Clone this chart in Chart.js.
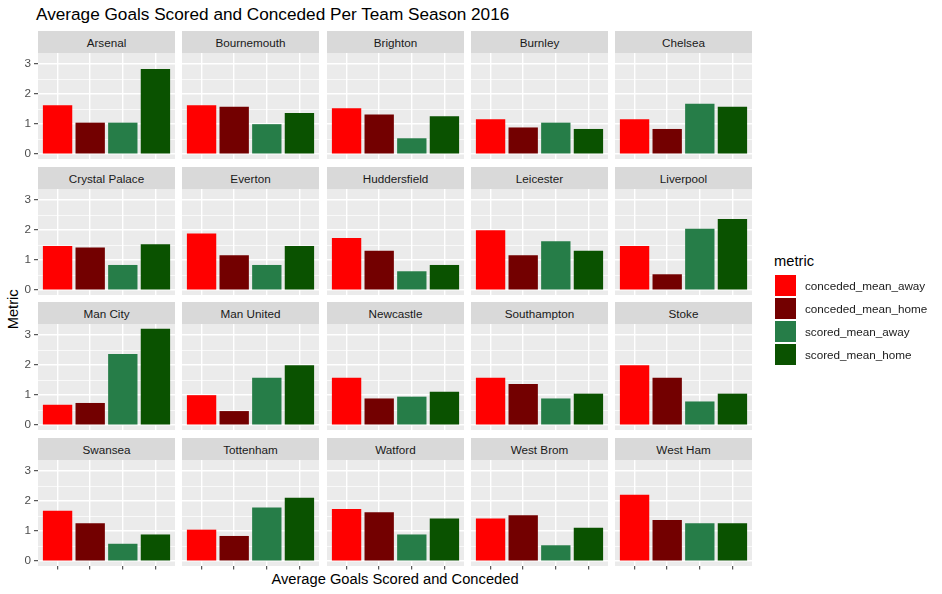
<!DOCTYPE html>
<html>
<head>
<meta charset="utf-8">
<script src="https://cdn.jsdelivr.net/npm/chart.js@4.4.1/dist/chart.umd.min.js"></script>
<style>
  body { margin: 0; background: #fff; font-family: "Liberation Sans", Arial, sans-serif; }
  #wrap { position: relative; width: 942px; height: 594px; overflow: hidden; }
  .txt { position: absolute; white-space: nowrap; color: #000; }
  .strip { position: absolute; background: #d9d9d9; color: #1a1a1a; font-size: 11.7px;
           display: flex; align-items: center; justify-content: center; padding-top: 1px; box-sizing: border-box; }
  .key { position: absolute; width: 21px; height: 21px; }
  .klab { position: absolute; height: 21px; font-size: 11.7px; color: #1a1a1a;
          display: flex; align-items: center; white-space: nowrap; }
  canvas { position: absolute; }
</style>
</head>
<body>
<div id="wrap">
  <div class="txt" style="left:36px;top:6.4px;font-size:17.2px;line-height:17.2px;">Average Goals Scored and Conceded Per Team Season 2016</div>
  <div class="txt" style="left:0;width:790px;text-align:center;top:572px;font-size:14.7px;line-height:14.7px;">Average Goals Scored and Conceded</div>
  <div class="txt" style="left:-16.7px;top:301.6px;width:60px;text-align:center;font-size:14.7px;line-height:14.7px;transform:rotate(-90deg);">Metric</div>
  <div class="txt" style="left:774px;top:253.6px;font-size:14.7px;line-height:14.7px;">metric</div>
</div>
<script>
// per-team averages
const teams = ['Arsenal', 'Bournemouth', 'Brighton', 'Burnley', 'Chelsea',
  'Crystal Palace', 'Everton', 'Huddersfield', 'Leicester', 'Liverpool',
  'Man City', 'Man United', 'Newcastle', 'Southampton', 'Stoke',
  'Swansea', 'Tottenham', 'Watford', 'West Brom', 'West Ham'];

const concededMeanAway = [1.63, 1.63, 1.53, 1.16, 1.16, 1.47, 1.89, 1.74, 2.00, 1.47,
  0.68, 1.00, 1.58, 1.58, 2.00, 1.68, 1.05, 1.74, 1.42, 2.21];
const concededMeanHome = [1.05, 1.58, 1.32, 0.89, 0.84, 1.42, 1.16, 1.31, 1.16, 0.53,
  0.74, 0.47, 0.89, 1.37, 1.58, 1.26, 0.84, 1.63, 1.53, 1.37];
const scoredMeanAway = [1.05, 1.00, 0.53, 1.05, 1.68, 0.84, 0.84, 0.63, 1.63, 2.05,
  2.37, 1.58, 0.95, 0.89, 0.79, 0.58, 1.79, 0.89, 0.53, 1.26];
const scoredMeanHome = [2.84, 1.37, 1.26, 0.84, 1.58, 1.53, 1.47, 0.84, 1.31, 2.37,
  3.21, 2.00, 1.11, 1.05, 1.05, 0.89, 2.11, 1.42, 1.11, 1.26];

const metrics = ['conceded_mean_away', 'conceded_mean_home', 'scored_mean_away', 'scored_mean_home'];
const metricColors = ['#FF0000', '#730000', '#267D48', '#0A5200'];
const yTickLabels = ['0', '1', '2', '3'];

const series = [concededMeanAway, concededMeanHome, scoredMeanAway, scoredMeanHome];

// shared y range, ggplot style 5% expansion
const topVal = Math.max(...series.flat());
const yMin = -0.05 * topVal;
const yMax = topVal * 1.05;

Chart.defaults.font.family = '"Liberation Sans", Arial, sans-serif';

const panelW = 137, panelH = 106, stripH = 22;
const leftPad = 38, bottomPad = 10;
const wrap = document.getElementById('wrap');

const panelBg = {
  id: 'panelBg',
  beforeDraw(chart) {
    const { ctx, chartArea: a } = chart;
    ctx.save();
    ctx.fillStyle = '#EBEBEB';
    ctx.fillRect(a.left, a.top, a.right - a.left, a.bottom - a.top);
    ctx.restore();
  }
};

const isWhole = v => Math.abs(v - Math.round(v)) < 1e-6;

teams.forEach((team, t) => {
  const r = Math.floor(t / 5), c = t % 5;
  const left = Math.round(38 + c * 144.25);
  const top = Math.round(53 + r * 135.7);
  const isBottom = r === 3;

  const strip = document.createElement('div');
  strip.className = 'strip';
  strip.style.left = left + 'px';
  strip.style.top = (top - stripH) + 'px';
  strip.style.width = panelW + 'px';
  strip.style.height = stripH + 'px';
  strip.textContent = team;
  wrap.appendChild(strip);

  const cv = document.createElement('canvas');
  cv.width = panelW + leftPad;
  cv.height = panelH + bottomPad;
  cv.style.left = (left - leftPad) + 'px';
  cv.style.top = top + 'px';
  cv.style.width = cv.width + 'px';
  cv.style.height = cv.height + 'px';
  wrap.appendChild(cv);

  new Chart(cv, {
    type: 'bar',
    data: {
      datasets: series.map((vals, k) => ({
        label: metrics[k],
        data: [{ x: k + 1, y: vals[t] }],
        backgroundColor: metricColors[k]
      }))
    },
    options: {
      animation: false,
      responsive: false,
      events: [],
      layout: { padding: 0 },
      plugins: { legend: { display: false }, tooltip: { enabled: false }, title: { display: false } },
      datasets: { bar: { grouped: false, categoryPercentage: 1, barPercentage: 0.9, borderWidth: 0 } },
      scales: {
        x: {
          type: 'linear', min: 0.4, max: 4.6, offset: false,
          ticks: { display: false, stepSize: 1, includeBounds: false },
          grid: { offset: false, color: '#fff', lineWidth: 1.4, drawTicks: isBottom,
                  tickLength: 3.5, tickWidth: 1, tickColor: '#333' },
          border: { display: false },
          afterFit: s => { s.height = bottomPad; s.paddingLeft = 0; s.paddingRight = 0; }
        },
        y: {
          type: 'linear', min: yMin, max: yMax,
          ticks: {
            display: c === 0, stepSize: 0.5, includeBounds: false, autoSkip: false,
            color: '#4D4D4D', font: { size: 11.7 }, padding: 3,
            callback: v => isWhole(v) ? yTickLabels[Math.round(v)] : ''
          },
          grid: {
            color: '#fff',
            lineWidth: ctx => (ctx.tick && isWhole(ctx.tick.value)) ? 1.4 : 0.7,
            drawTicks: c === 0, tickLength: 4, tickWidth: 1,
            tickColor: ctx => (ctx.tick && isWhole(ctx.tick.value)) ? '#333' : 'rgba(0,0,0,0)'
          },
          border: { display: false },
          afterFit: s => { s.width = leftPad; s.paddingTop = 0; s.paddingBottom = 0; }
        }
      }
    },
    plugins: [panelBg]
  });
});

// legend
metrics.forEach((m, k) => {
  const y = 275 + k * 23;
  const key = document.createElement('div');
  key.className = 'key';
  key.style.left = '775px';
  key.style.top = y + 'px';
  key.style.background = metricColors[k];
  wrap.appendChild(key);
  const lab = document.createElement('div');
  lab.className = 'klab';
  lab.style.left = '805px';
  lab.style.top = y + 'px';
  lab.textContent = m;
  wrap.appendChild(lab);
});
</script>
</body>
</html>
